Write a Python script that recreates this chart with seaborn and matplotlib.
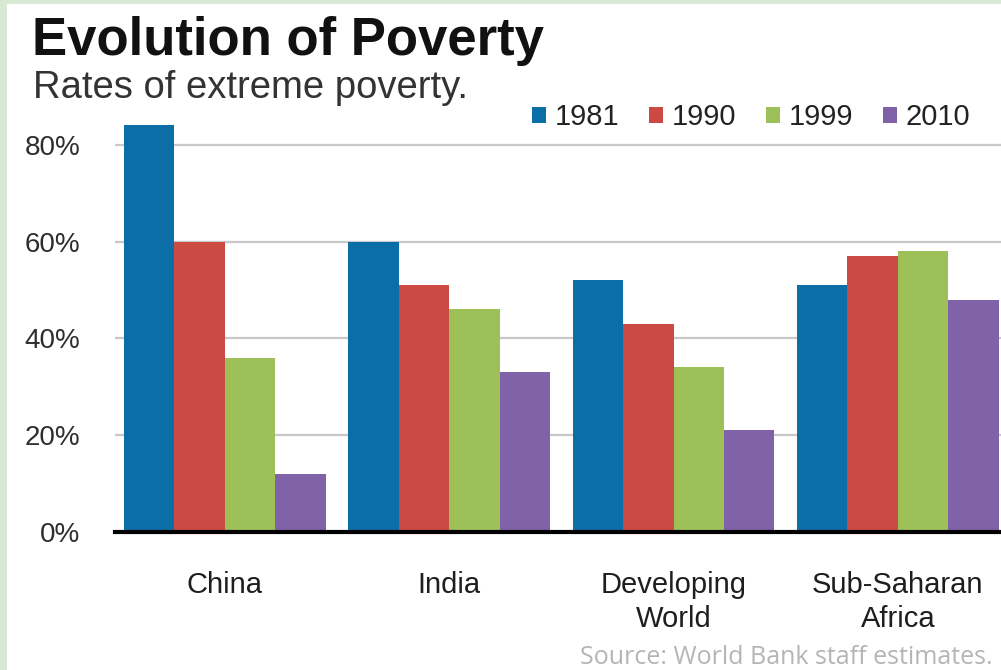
import matplotlib
matplotlib.use('Agg')
import matplotlib.pyplot as plt
from matplotlib.patches import Rectangle, Patch
import seaborn as sns
import pandas as pd

# values (percent of population)
regions = ['China', 'India', 'Developing\nWorld', 'Sub-Saharan\nAfrica']
years = ['1981', '1990', '1999', '2010']
rate_1981 = [84, 60, 52, 51]
rate_1990 = [60, 51, 43, 57]
rate_1999 = [36, 46, 34, 58]
rate_2010 = [12, 33, 21, 48]
colors = ['#0b6ea6', '#cc4a44', '#9dc058', '#7f62a8']

# long table for seaborn
rows = []
for yr, vals in zip(years, [rate_1981, rate_1990, rate_1999, rate_2010]):
    for reg, v in zip(regions, vals):
        rows.append({'region': reg, 'year': yr, 'rate': v})
df = pd.DataFrame(rows)

sns.set_style('white')
plt.rcParams['font.family'] = ['Liberation Sans', 'DejaVu Sans']

fig = plt.figure(figsize=(10.01, 6.70), dpi=100)
fig.patch.set_facecolor('#d9e8d3')
# white page with green frame on the left and top
fig.patches.append(Rectangle((7 / 1001, 0), 1, 1 - 4 / 670, transform=fig.transFigure,
                             facecolor='white', edgecolor='none', zorder=-10))

ax = fig.add_axes([115 / 1001, (670 - 532) / 670, 1 - 115 / 1001, 426 / 670])
ax.set_facecolor('none')

sns.barplot(data=df, x='region', y='rate', hue='year', hue_order=years,
            order=regions, palette=colors, width=0.9, gap=0, saturation=1,
            edgecolor='none', ax=ax, legend=False)

ax.set_xlim(-0.49, 3.46)
ax.set_ylim(0, 88)
ax.set_yticks([0, 20, 40, 60, 80])
ax.set_yticklabels([f'{t}%' for t in [0, 20, 40, 60, 80]])
ax.yaxis.grid(True, color='#c8c8c8', lw=1.6)
ax.set_axisbelow(True)
ax.set_xlabel('')
ax.set_ylabel('')
for side in ['top', 'right', 'left']:
    ax.spines[side].set_visible(False)
ax.spines['bottom'].set_color('black')
ax.spines['bottom'].set_linewidth(3)
ax.tick_params(axis='y', length=0, pad=25, labelsize=20, labelcolor='#2e2e2e')
ax.tick_params(axis='x', length=0, pad=28, labelsize=21, labelcolor='#1e1e1e')
for lab in ax.get_xticklabels():
    lab.set_linespacing(1.3)

# legend with small squares
handles = [Patch(facecolor=c, edgecolor='none') for c in colors]
fig.legend(handles, years, loc='center left', bbox_to_anchor=(0.531, 0.825),
           ncol=4, frameon=False, fontsize=21, handlelength=0.5, handleheight=0.5,
           handletextpad=0.3, columnspacing=1.0, borderpad=0, borderaxespad=0,
           labelcolor='#222222')

fig.text(32 / 1001, 1 - 16 / 670, 'Evolution of Poverty', fontsize=38,
         fontweight='bold', va='top', ha='left', color='#111111')
fig.text(33 / 1001, 1 - 70 / 670, 'Rates of extreme poverty.', fontsize=27.5,
         va='top', ha='left', color='#333333')
fig.text(580 / 1001, 1 - 664 / 670, 'Source: World Bank staff estimates.',
         fontsize=18, family=['Open Sans', 'DejaVu Sans'], color='#b5b5b5',
         va='baseline', ha='left')

fig.savefig('out.png', dpi=100, facecolor=fig.get_facecolor())
